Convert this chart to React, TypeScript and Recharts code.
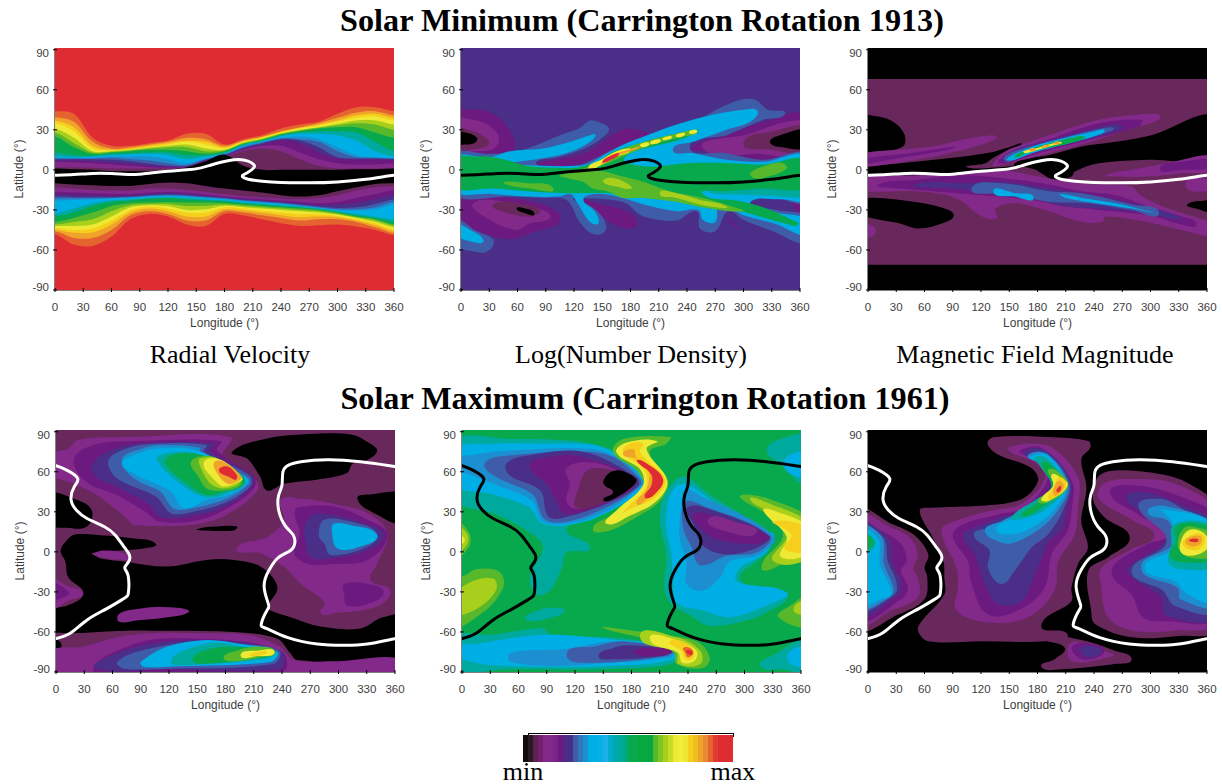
import { Bar, BarChart, Cell, ComposedChart, Curve, Line, XAxis, YAxis } from "recharts";

// contour levels, low to high
const levelColors = [
  "#000000", "#68285c", "#82298a", "#6c1a80", "#4b2e87", "#3f5ca8", "#1c8fd0", "#00aee6", "#00aecb",
  "#00a99d", "#08a84c", "#57b82b", "#a8cf1b", "#eee935", "#f6cf1c", "#efa32a", "#e5632f", "#df2c33",
];

const lonTicks = [0, 30, 60, 90, 120, 150, 180, 210, 240, 270, 300, 330, 360];
const latTicks = [-90, -60, -30, 0, 30, 60, 90];

// colour bar, left to right
const colorbarColors = [
  "#120c0c", "#2a1a20", "#5e1f52", "#73206f", "#82298a", "#82298a", "#7a2488", "#6c1a80", "#502a88", "#482e88",
  "#3f5ca8", "#2f78bc", "#1c8fd0", "#00aee6", "#00aee6", "#08aee6", "#1cb0e6", "#00aecb", "#00a9b0", "#00a99d",
  "#00a980", "#08a84c", "#08a84c", "#08a840", "#08a840", "#08a840", "#57b82b", "#80c520", "#a8cf1b", "#c8dc25",
  "#eee935", "#f2ee3a", "#f2e635", "#f6cf1c", "#f0bc22", "#efa32a", "#e98a30", "#e5632f", "#e03a32", "#df2c33",
  "#df2c33", "#df2c33",
];

// neutral line, solar minimum
const sheetMin = [
  -12, -4.3, 0, -4, 20, -3.5, 40, -2.7, 60, -2.8, 80, -3.5, 90, -3.2, 100, -2.5, 120, -1, 140, 0, 155, 1.5, 165, 3.5,
  175, 5.5, 185, 7, 195, 7.7, 205, 6.5, 211, 4, 211, 1.5, 205, -1.8, 199.5, -4, 199.5, -5.5, 205, -7, 220, -8.5, 240,
  -9.5, 270, -9.7, 300, -9, 330, -7, 360, -4, 372, -3.5,
];
// neutral lines, solar maximum
const sheetMaxWest = [
  -12, 67, 0, 64.5, 12, 61, 23, 55, 19.5, 49, 16, 39, 22, 31, 33, 25, 51, 19, 63, 12.5, 72, 4, 78, -2.5, 77, -7.5, 73,
  -12, 76.5, -17.5, 77, -30, 72, -35, 54, -42.5, 33, -51, 15, -61, 0, -65, -12, -67,
];
const sheetMaxEast = [
  372, -64, 360, -65, 330.5, -69, 306, -70, 277.5, -69, 245.5, -64, 224, -57.5, 218, -54, 224, -44, 225.5, -39, 221,
  -26, 226, -14, 235, -5, 244, -1, 252.5, 4, 252, 12.5, 244, 19, 236.5, 31, 236.5, 42.5, 240, 50, 241, 60, 247, 65,
  260, 67.5, 288, 69, 323.5, 67.5, 360, 64, 372, 63,
];

// radial velocity, solar minimum: edge latitudes of each level at every 20 degrees
const speedLons = [0, 20, 40, 60, 80, 100, 120, 140, 160, 180, 200, 220, 240, 260, 280, 300, 320, 340, 360];
const speedLevels = [16, 15, 14, 13, 12, 11, 10, 9, 7, 6, 5, 4, 3, 2, 1, 0];
const speedNorth = [
  [44, 42, 24, 18, 18, 20, 22, 27, 27, 19, 23, 26, 31, 34, 36, 42, 47, 47, 44],
  [39.5, 36, 21, 16, 17, 19, 21, 24, 23, 18, 22, 25, 29, 32, 35, 39, 43, 44, 41],
  [37, 32, 18, 15, 16, 18, 20, 22, 21, 17, 21.5, 24.5, 28.5, 31.5, 34, 37, 41, 42, 39],
  [35, 29, 16, 14.5, 15.5, 17, 19, 21, 19, 16, 21, 24, 28, 31, 33, 36, 39, 40, 37],
  [31, 24, 14, 14, 15, 16.5, 18, 19, 16, 15, 20.5, 23.5, 27.5, 30, 32, 34.5, 37, 37, 34],
  [28, 20, 13, 13.5, 14.5, 16, 17, 17, 14, 14.5, 20, 23, 27, 29.5, 31.5, 33.5, 35, 34, 30],
  [25, 17, 12, 13, 14, 15, 15, 14, 12, 14, 19.5, 22.5, 26.5, 29, 31, 32, 32, 28, 24],
  [13, 11, 10.5, 12, 12.5, 13, 13, 11, 11, 13, 19, 22, 26, 28, 29, 29, 28, 21, 14],
  [10, 9.5, 10, 11, 11.5, 12, 11, 8, 10, 12.5, 18.5, 21.5, 25, 27, 27, 26, 22, 14, 10],
  [9, 9, 9, 10, 10, 10, 8, 5, 8.5, 12, 18, 21, 24, 25, 23, 17, 11, 9.5, 9],
  [8.5, 8.5, 8.5, 9, 8, 7, 5, 3.5, 8, 11.5, 17, 20.5, 23.5, 23, 21, 14, 9.5, 9, 8.5],
  [8, 8, 8, 7.5, 6.5, 4.5, 3, 3, 7.5, 11, 16.5, 20, 23, 22, 17, 9.5, 8.5, 8.5, 8],
  [7, 7, 6.5, 5.5, 4.5, 3, 2.5, 2.5, 7, 10.5, 15.5, 19, 22, 20, 13, 8.5, 8, 8, 7.5],
  [6, 5.5, 5, 4, 3, 2, 1.5, 2, 6.5, 10, 15, 18, 18, 13, 8, 5, 4, 4, 5],
  [2, 2, 1.5, 1, 1, 1, 1, 1.5, 6, 9.5, 14, 16, 14, 8, 3, 1, 1, 1, 1],
  [1, 0.5, 0, -1, -1, -1, 0, 2, 6.5, 11.5, 3, 0, 0, 0, 0, 0, 0.5, 0.5, 1],
];
const speedSouth = [
  [-48, -56, -57, -50, -37, -33, -35, -41, -42, -33, -34, -37, -40, -42, -41.5, -41, -42.5, -45, -49],
  [-46, -51, -51, -45, -34, -31, -33, -38, -38, -31, -32, -34, -36, -38, -37, -37, -39, -43, -47.5],
  [-45, -47, -47, -41, -32, -29, -31, -35, -35, -29.5, -30.5, -32, -34, -35.5, -35, -35.5, -38, -41.5, -46],
  [-43.5, -45, -44, -38, -30, -27.5, -29, -32, -32, -28, -29, -30.5, -32, -33, -33, -34.5, -37, -40, -44.5],
  [-42, -42, -41, -35, -28, -26.5, -27, -30, -29.5, -27, -28, -29, -30, -31, -32, -33.5, -36, -39, -43],
  [-41, -39, -37, -31, -26.5, -25.5, -25.5, -27, -27, -26, -27, -28, -29, -30, -31, -33, -35.5, -38, -42],
  [-39, -36, -32, -27, -25, -24.5, -24, -24.5, -24.5, -25, -26, -27, -28, -29, -30, -32, -35, -37, -41],
  [-35, -32, -27, -24, -23, -21.5, -21, -22, -23, -23.5, -25, -26, -27, -28, -29.5, -31.5, -34, -36, -39],
  [-33, -29, -25, -23, -22, -21, -20.5, -21, -22, -23, -24.5, -25.5, -26.5, -27.5, -29, -31, -33, -35, -37],
  [-23, -22.5, -22, -21.5, -21, -20, -19.5, -20, -21, -22, -23.5, -24.5, -25.5, -27, -28.5, -30, -30.5, -29.5, -26],
  [-21.5, -21.5, -21.5, -21, -20.5, -19.5, -19, -19.5, -20.5, -21.5, -23, -24, -25, -26.5, -28, -29.5, -29.5, -28, -24],
  [-20, -20.5, -20.5, -20.5, -20, -19, -18.5, -19, -20, -21, -22.5, -23.5, -24.5, -26, -27.5, -28.5, -28, -25.5, -22],
  [-18.5, -19, -19, -19.5, -19, -18, -17.5, -18, -19.5, -20.5, -22, -23, -24, -25, -26.5, -26, -25, -22, -19],
  [-16.5, -17, -17.5, -18, -18, -17, -16.5, -17, -18.5, -20, -21, -22, -23, -24, -25, -24, -21, -18, -15],
  [-13, -14, -15, -15.5, -15.5, -14, -14, -15, -16.5, -18, -19.5, -20.5, -21.5, -22, -21, -19, -15.5, -13, -12],
  [-10, -11, -11.5, -12, -12, -10.5, -9.5, -10, -12, -14, -15.5, -17, -19, -20, -19, -16, -13, -10.5, -10],
];

// each contour: level, then lon, lat pairs
const densityMinContours = [
  [3, -12, 44, 10, 45, 28, 44, 42, 38, 55, 25, 55, 15, 30, 12, -12, 12],
  [2, -12, 38, 10, 38, 28, 34, 40, 25, 35, 16, 15, 14, -12, 14],
  [1, -12, 32, 8, 30, 22, 26, 30, 20, 18, 16, -12, 16],
  [0, -12, 28, 5, 28, 17, 24, 14, 20, 3, 19, -12, 19],
  [3, 243, 16, 282, 26, 317, 35, 372, 41, 372, 11, 300, 9, 264, 14],
  [2, 257, 16, 300, 26, 372, 36, 372, 12, 317, 12],
  [1, 300, 20, 332, 29, 372, 32, 372, 14, 328, 15],
  [0, 328, 21, 335, 25, 372, 30, 372, 17, 335, 17.5],
  [3, 80, 5, 130, 12, 172, 30, 194, 29, 200, 26, 172, 19, 144, 9, 123, 4, 87, 3],
  [3, -12, -19, 52, -21, 87, -26, 105, -34, 102, -41, 80, -46, 52, -52, 17, -46, -12, -34],
  [2, 13, -25, 48, -24, 87, -30, 95, -36, 73, -40, 59, -45, 27, -36],
  [1, 34, -26, 59, -25, 84, -30, 73, -35, 48, -32],
  [0, 59, -29, 66, -28.5, 78, -33, 66, -32],
  [3, 119, -22.5, 144, -25, 179, -32, 187, -41, 176, -44, 158, -39, 137, -29],
  [3, 282, -36, 296, -44, 290, -42],
  [3, 352, -26, 372, -18, 372, -33],
  [5, -12, 11, 30, 12, 60, 14, 85, 20, 105, 26, 125, 31, 137, 37, 145, 36, 157, 31, 150, 24, 137, 18, 120, 13, 100, 9, 80, 6, 87, 2, 123, 3, 144, 9, 172, 19, 200, 26, 243, 35, 286, 50, 310, 53, 326, 45, 344, 42, 321, 37.5, 282, 26, 243, 17.5, 282, 12.5, 321, 7.5, 372, 11, 372, -23.5, 335, -21.5, 305, -23, 335, -30, 372, -36, 372, -55, 328, -45, 300, -37.5, 284, -31, 270, -46, 254, -44, 250, -31, 229, -38, 194, -35, 172, -24, 123, -21, 119, -22, 135, -26, 151, -36, 153, -46, 140, -48, 126, -39, 112, -22.5, 87, -21, 52, -20, -12, -18],
  [5, -12, -36, 17, -46, 34, -52, 32, -59, 22, -62, -12, -54],
  [7, -12, 9, 30, 9.5, 52, 14, 87, 16, 116, 21, 137, 26, 143, 26, 135, 20, 112, 12.5, 80, 8, 52, 5, 59, 4, 87, 3, 123, 3, 137, 5, 155, 12.5, 176, 20, 194, 25, 229, 34, 265, 41, 300, 45, 315, 44, 307, 36, 282, 30, 247, 21, 225, 15, 247, 12.5, 282, 7.5, 321, 6, 372, 10, 372, -22, 340, -22, 306, -26, 335, -32, 372, -38, 372, -50, 332, -40, 300, -34, 275, -26, 270, -39, 257, -37.5, 252, -30, 229, -31, 194, -26, 172, -21, 144, -18, 130, -22, 142, -31, 146, -40, 137, -39, 123, -24, 116, -18, 105, -20, 70, -20, 34, -18, -12, -15],
  [7, -12, -39, 15, -47, 24, -53, 18, -55, -12, -47],
  [9, 372, -12, 318, -13, 262, -16, 272, -18, 318, -19, 372, -20],
  [10, -12, 8, 20, 10, 30, 10, 50, 7, 70, 3, 100, 1.5, 125, 2, 140, 5, 150, 8, 160, 13, 175, 17, 190, 20, 210, 24, 230, 27, 250, 30, 252, 29, 230, 22, 194, 16, 176, 11, 174, 6, 201, 2.5, 240, 5, 286, 5, 321, 4, 372, 7.5, 372, -12.5, 318, -14, 282, -16, 257, -18, 293, -23, 321, -28, 350, -37, 358, -41, 346, -40.5, 293, -30, 264, -25, 222, -22.5, 194, -19, 158, -17.5, 116, -17.5, 70, -16, 34, -14, -12, -12.5],
  [11, 307, -2.5, 321, 2.5, 339, 5.5, 346, 1, 321, -6, 311, -6],
  [11, 105, -4, 133, -1, 151, -1, 172, -5, 194, -9, 222, -16, 257, -21, 286, -27, 300, -31, 264, -29, 229, -24, 194, -21, 172, -21, 155, -16, 140, -14, 130, -9, 112, -6],
  [11, 45, -9, 70, -10, 98, -14, 73, -14, 48, -11],
  [12, 151, -7.5, 162, -6, 176, -10, 181, -14, 165, -12.5, 155, -11],
  [12, 211, -17.5, 229, -17.5, 254, -22.5, 282, -27.5, 264, -27.5, 229, -21],
  [11, 130, 0, 140, 4, 160, 12, 175, 16.5, 195, 21, 215, 25, 230, 27.5, 250, 30, 250, 27, 230, 24, 200, 18, 175, 11, 155, 5],
  [13, 135, 1, 150, 8, 165, 14, 180, 16, 178, 13, 165, 10, 150, 4],
  [15, 148, 3.5, 150, 5, 160, 11, 175, 14.5, 190, 17.5, 188, 16, 170, 11.5, 158, 7],
  [17, 150, 6, 160, 11, 168, 12, 158, 7],
  [13, 190, 18, 195, 20.5, 200, 20, 197, 17.5],
  [13, 201, 20, 206, 22.5, 212, 22, 207, 19.5],
  [13, 214, 23, 219, 25, 224, 24.5, 219, 22.5],
  [13, 228, 25.5, 233, 27.5, 238, 27, 233, 24.5],
  [13, 242, 28, 247, 30, 251, 29, 246, 27],
];

const fieldMinContours = [
  [0, -60, 68, -30, 68, 0, 68, 180, 68, 360, 68, 390, 68, 420, 68, 420, 130, -60, 130],
  [0, -60, -71, -30, -71, 0, -71, 180, -71, 360, -71, 390, -71, 420, -71, 420, -130, -60, -130],
  [0, -12, 39, 11, 40, 29, 35, 39, 26, 37, 17.5, 15, 14, -12, 12.5],
  [0, -12, 1, 30, 4.5, 90, 9, 130, 13, 150, 17, 163, 19, 148, 14.5, 133, 9, 125, 5, 105, 2, 140, 2, 156, 2.5, 125, -1, 68, -5, -12, -6],
  [0, 155, 4, 175, 9, 192, 11, 227, 17.5, 263, 21, 301, 26, 375, 41, 375, 10, 298, 7.5, 245, 5, 220, -1, 216, -5, 205, -7, 195, -7, 185, -3, 178, 0, 168, 2],
  [0, -12, -32, -12, -22, 50, -24, 86, -30, 91, -35, 79, -40, 54, -44, 33, -40],
  [0, 339, -26, 358, -23, 372, -23, 372, -32, 348, -29],
  [2, -12, 11, 33, 15, 68, 17.5, 100, 22.5, 132, 26, 137, 24, 121, 19, 86, 12.5, 50, 7.5, -12, 2.5],
  [3, -12, 7.5, 50, 13, 93, 17.5, 86, 15, 43, 10, -12, 4],
  [2, 132, 4, 146, 14, 164, 19, 192, 26, 245, 37.5, 280, 41, 309, 41.5, 309, 37.5, 280, 31, 227, 19, 192, 12.5, 156, 6, 135, 2.5],
  [3, 138, 6, 153, 14, 192, 23, 245, 35, 291, 37.5, 287, 32.5, 227, 21, 174, 11, 146, 5],
  [4, 144, 7.5, 156, 15, 192, 22, 241, 31, 263, 34, 271, 31, 227, 22, 174, 12.5, 149, 6],
  [5, 144, 9, 160, 15, 192, 21, 241, 30, 259, 32, 261, 30, 227, 22.5, 174, 14, 149, 6],
  [7, 147, 8, 164, 14.5, 192, 21, 241, 29, 251, 30, 248, 27, 220, 21, 174, 12.5, 153, 7],
  [10, 156, 11, 174, 16, 199, 21, 227, 25.5, 231, 24, 209, 19, 174, 14, 157, 9],
  [13, 165, 14, 178, 16, 192, 19, 204, 21, 206, 20, 192, 17.5, 178, 14.5, 167, 12.5],
  [15, 171, 15, 176, 16.5, 178, 14.5, 173, 14],
  [15, 184, 17.5, 190, 19, 192, 17.5, 186, 16.5],
  [15, 197, 20, 202, 21.5, 204, 20, 199, 19],
  [2, -12, -6, 50, -4, 103, -2.5, 139, 0, 174, -4, 213, -9, 245, -11, 280, -12.5, 289, -19, 319, -29, 372, -42, 372, -50, 333, -45, 296, -39, 252, -35, 249, -39, 227, -39, 192, -31, 156, -25, 135, -29, 137, -36, 121, -35, 93, -21, 50, -16, -12, -15],
  [3, 11, -11, 50, -7.5, 103, -4, 142, -6, 192, -11, 227, -16, 263, -19, 298, -27.5, 333, -35, 349, -41, 333, -41, 298, -34, 245, -30, 210, -27.5, 174, -22.5, 121, -19, 68, -16, 33, -14],
  [4, 50, -11, 103, -10, 142, -9, 192, -14, 227, -17.5, 280, -25, 315, -31, 332, -37, 298, -32.5, 245, -29, 210, -27.5, 174, -21, 121, -16, 86, -14],
  [5, 110, -14, 142, -10, 192, -16, 227, -17.5, 280, -26, 309, -32.5, 280, -30, 234, -25, 192, -24, 171, -21, 138, -18],
  [7, 133, -16, 156, -17.5, 176, -21, 156, -20],
  [7, 204, -18, 227, -21, 263, -25, 298, -31, 309, -33, 280, -29, 234, -24, 210, -21],
  [2, 252, -4, 280, 0, 316, 5, 372, 11, 372, 0, 333, -2.5, 298, -5, 263, -5],
  [3, 310, 1, 333, 6, 372, 8, 372, 2, 333, 0],
  [2, 337, -11, 372, -8, 372, -15],
  [2, -12, -39, 6, -42.5, 8.5, -46, 4, -50, -12, -50],
];

const speedMaxContours = [
  [0, 187, 75, 224, 85, 260, 88, 313, 88, 334, 81, 341, 75.5, 331, 69, 315, 66, 309, 59, 277, 54, 242, 51, 224, 46, 217, 56, 203, 70],
  [0, 320, 40, 334, 43, 372, 42.5, 372, 22, 338, 29],
  [0, -12, 43, 22, 39, 38, 31, 33, 19, 12, 18, -12, 22],
  [0, 150, 17, 171, 19, 192, 19, 189, 16, 160, 16],
  [0, 5, 1, 12, 9, 20, 13, 47, 12.5, 83, 10, 106, 6, 93, 2.5, 68, 1, 38, -1, 42, -3, 47, -5, 75, -7.5, 118, -11, 160, -6, 189, -6, 217, -11, 235, -26, 226, -39, 224, -42.5, 249, -49, 281, -56, 323, -57.5, 347, -49, 375, -49, 375, -82, 256, -81, 249, -76, 235, -65, 189, -60, 83, -59, -15, -59, -15, -45, 13, -40, 29, -31, 13, -19, 10, -7.5],
  [0, -12, -65, 6, -70, -12, -75],
  [2, 65, -50, 90, -42.5, 132, -42, 141, -45, 118, -49, 90, -51],
  [2, 24, 84, 83, 86, 185, 86, 176, 71, 189, 64, 212, 54, 214, 46, 189, 31, 153, 21, 83, 20, 75, 25, 47, 41, 19, 51, -12, 60, -12, 72, 12, 77],
  [3, 19, 69, 40, 80, 83, 83, 175, 83, 171, 76, 210, 56, 210, 47.5, 185, 34, 153, 24, 111, 22.5, 93, 31, 65, 42.5, 33, 52],
  [4, 38, 65, 58, 76, 90, 81, 168, 81, 164, 75, 207, 57.5, 208, 49, 182, 35, 150, 27.5, 111, 26, 100, 35, 68, 47.5, 43, 56],
  [5, 56, 69, 75, 77.5, 104, 81, 160, 80, 157, 75, 205, 57.5, 207, 50, 182, 37.5, 146, 30, 122, 29, 107, 41, 75, 51, 61, 57.5],
  [6, 70, 69, 90, 77, 111, 80, 153, 78, 153, 74, 203, 56, 205, 51, 182, 40, 143, 32.5, 125, 32.5, 111, 45, 83, 55],
  [7, 70, 66, 83, 72.5, 107, 77.5, 150, 76, 203, 55, 203, 51, 182, 42.5, 160, 39, 136, 32.5, 122, 45, 86, 57.5],
  [9, 107, 69, 118, 74, 146, 74, 189, 61, 201, 52.5, 182, 44, 160, 41, 136, 49],
  [10, 116, 66, 122, 72.5, 153, 73, 192, 60, 200, 51, 178, 45, 160, 42.5, 139, 51],
  [11, 143, 66, 150, 71, 168, 71, 196, 57.5, 196, 50, 178, 46, 160, 47.5, 150, 57.5],
  [12, 152, 66, 153, 70, 171, 70, 197, 56, 194, 51, 178, 47.5, 164, 51],
  [13, 157, 67, 175, 69, 198, 55, 194, 52.5, 178, 49, 168, 54],
  [15, 168, 67, 178, 67.5, 197, 56, 192, 52.5, 182, 51, 171, 59],
  [17, 173, 61, 182, 64, 192, 57.5, 191, 54, 184, 56],
  [2, 192, 2.5, 224, 11, 242, 24, 238.5, 39, 260, 40, 295, 36, 331, 29, 352, 14, 341, -9, 334, -21, 355, -29, 341, -41, 295, -46, 281, -46, 285, -37.5, 260, -24, 242, -11, 217, -1],
  [3, 306, -24, 331, -24, 348, -30, 331, -39, 309, -40, 306, -31],
  [3, 254, 26, 256, 33, 295, 34, 331, 24, 352, 12.5, 331, -6, 295, -9, 267, -9, 253, -1, 259, 14],
  [4, 263, 16, 272, 27.5, 295, 27.5, 328, 21, 348, 12.5, 327, 0, 292, -5, 270, -4, 265, 7.5],
  [5, 279, 12.5, 285, 24, 313, 22.5, 341, 14, 331, 4, 292, -2.5, 285, 6],
  [7, 293, 15, 295, 21, 313, 20, 341, 12.5, 323, 4, 299, 2.5],
  [2, -12, -20, 13.5, -26, 29, -31, 15, -36, -12, -43],
  [3, -12, -23, 13.5, -30, 4.5, -35, -12, -37],
  [2, 40, -1, 58, 1, 77, -2.5, 77, -6, 47, -4],
  [2, -12, -76, 29, -71, 65, -64, 100, -61, 153, -61, 207, -62.5, 238, -71, 253, -81, 295, -82, 372, -81, 372, -100, -12, -100],
  [3, 42, -84, 65, -74, 100, -66, 153, -65, 203, -67.5, 238, -74, 245, -80, 242, -89, 118, -95, 42, -92],
  [4, 42, -87, 65, -76, 100, -69, 153, -66, 199.5, -68, 238, -74, 242, -78, 238, -87.5, 118, -88],
  [5, 65, -82.5, 90, -74, 153, -66.5, 196, -69, 237, -74, 231, -84, 118, -87.5, 72, -87.5],
  [7, 90, -82.5, 118, -71, 160, -66, 196, -69, 235, -75, 228, -82.5, 118, -86, 93, -86],
  [9, 122, -82.5, 132, -75, 168, -68, 199.5, -71, 232, -75, 224, -80, 132, -85],
  [10, 145, -80, 157, -74, 185, -71, 232, -75, 221, -79, 153, -84],
  [11, 178, -79, 192, -74, 214, -71, 233, -75, 217, -79, 189, -82],
  [13, 196, -77.5, 214, -74, 232, -75, 214, -78],
  [14, 205, -77, 221, -74, 224, -76, 210, -78],
];

const densityMaxContours = [
  [9, -12, 82, 51, 84.5, 121, 83, 157, 77, 178, 68, 143, 26, 111, 17, 136, 3, 111, -0.5, 106, -12, 93, -29, 79, -32, 72, -19, 86, 3, 75, 13, 36.5, 28, -12, 41],
  [7, -12, 76, 33, 81, 86, 81, 143, 79.5, 171, 69.5, 192, 56, 192, 48, 164, 33, 121, 21, 86, 21, 72, 33, 33, 43, -12, 51],
  [6, -12, 67, 15, 73, 51, 76, 139, 77, 171, 68, 191, 54.5, 191, 49.5, 157, 32, 118, 22, 86, 23, 75, 38, 33, 51, 12, 57],
  [5, 24, 66, 47, 72, 129, 75, 160.5, 71, 189, 54.5, 189, 49.5, 157, 34.5, 114, 23, 88, 24.5, 75, 43, 36.5, 56],
  [4, 47, 66, 68, 72, 129, 75, 185, 56, 187, 49.5, 157, 37, 104, 25, 91, 27, 83, 46, 51, 57],
  [3, 72, 64.5, 93, 71, 121.5, 72, 175, 59.5, 185, 52, 157, 38, 111, 28, 100, 38, 90, 51],
  [2, 111, 63, 139, 67, 178, 57, 185, 52, 157, 39, 121.5, 32, 111, 38, 114.5, 51],
  [1, 123, 46, 136, 62, 178, 57, 182, 51, 153, 38, 121.5, 33],
  [0, 150, 53, 157, 59.5, 168, 61, 185, 54.5, 182, 49.5, 160.5, 39.5, 150, 39, 160.5, 44.5, 152, 49.5],
  [11, 160.5, 74.5, 171, 84.5, 221, 86, 217, 81, 199.5, 74.5, 219, 53, 210, 38, 185, 26, 157, 16, 139, 17, 157, 27, 192, 48, 185.5, 61],
  [13, 164, 74.5, 175, 82, 207, 83, 196, 77, 218, 53, 206.5, 38, 178, 27, 153.5, 21, 164, 31, 192, 49.5, 189, 62],
  [14, 171, 74.5, 178, 81, 192, 81, 189, 74.5, 215.5, 54.5, 205, 41, 178, 32, 171, 29.5, 196, 49.5, 192, 63],
  [15, 171, 73, 182, 77, 185, 71, 213.5, 54.5, 199.5, 42, 185.5, 36, 196, 47, 198, 61, 185, 70],
  [17, 185.5, 68, 192, 68, 213.5, 54.5, 203, 42, 194, 41, 201, 49.5, 201, 58],
  [11, -12, 24, 7, 15, 7, 3, -12, -5],
  [12, -12, 21, 5, 14, 5, 5, -12, -2],
  [13, -12, 16, 2, 11, 2, 7, -12, 2],
  [11, -12, -24, 5, -17, 15, -13, 40, -15, 43.5, -27, 22, -45.5, -12, -55],
  [12, -12, -36, 8, -23, 33, -20, 36, -29, 15, -43, -12, -47],
  [9, 323.5, 76, 338, 84.5, 372, 86, 372, 50, 338, 66],
  [7, 341, 66, 372, 74, 372, 56],
  [11, 295, 41, 302, 43, 327, 39.5, 372, 23, 372, -4, 341, -9, 320, -14, 320, -7, 341, 13, 323.5, 28],
  [12, 306, 39.5, 320, 38, 372, 19.5, 372, -2, 331, -7, 345, 13, 325, 30],
  [13, 320, 31, 331, 31, 372, 17, 372, 1, 339, -4, 345, 11],
  [14, 331, 23, 372, 16, 372, 2, 343, 2, 350, 13],
  [9, 228, 54.5, 238.5, 56, 263, 43, 316, 18, 327, 3, 313, -7, 295, -19, 310, -27, 345, -32, 327, -44, 299, -52, 263, -55.5, 245.5, -49, 217, -34, 217, -2, 210, 23, 214, 41],
  [7, 228, 49.5, 242, 49.5, 285, 28, 320, 16, 332, 12, 320, -2, 295, -12, 292, -22, 345, -30.5, 327, -39, 285, -49, 256, -44, 228, -38, 224, -22, 222.5, -2, 217, 18, 219, 38],
  [6, 237, 46, 253, 42, 331, 12, 316, -2, 285, -7, 274, -19, 256, -29, 238.5, -24, 238.5, -7, 231, 11, 233, 33],
  [5, 237, 37, 256, 34.5, 327, 12, 313, -0.5, 281, -3, 253, -10, 244, 3, 235, 18],
  [4, 239, 33, 263, 32, 326, 12, 313, 3, 281, -2, 256, 4.5, 245.5, 21],
  [3, 245.5, 28, 263, 28, 325, 12, 313, 6, 270, 9.5, 253, 18],
  [2, 261.5, 24.5, 292, 22, 313, 14.5, 285, 14.5],
  [9, 68, -50.5, 84, -43, 100, -42, 109, -44, 97, -49],
  [9, -12, -64, 33, -62, 86, -57, 93, -62, 157, -64, 192, -67, 228, -72, 228, -82, 189, -87, 51, -88, -12, -87],
  [7, -12, -72, 15, -69, 86, -62, 157, -65.5, 225, -72, 225, -80.5, 157, -85.5, 51, -85.5, 8, -82],
  [6, 51, -75.5, 107, -73, 164, -67, 225, -73, 221, -79, 157, -83, 93, -85.5, 51, -82],
  [5, 111, -77, 143, -70.5, 171, -67, 223, -74, 217, -78, 143, -83],
  [4, 145, -78, 160.5, -72, 178, -70, 223, -74, 213, -78, 160, -80.5],
  [3, 182, -75.5, 192, -72, 223, -74, 206.5, -78],
  [11, 150, -57, 171, -58, 210, -62, 249, -67, 263, -79, 256, -87, 228, -84, 225, -75.5, 196, -65.5],
  [12, 189, -63, 228, -64, 253, -74, 253, -84, 230, -84, 228, -75.5],
  [13, 199.5, -65, 228, -66, 249, -74, 247, -81.5, 234, -83, 229.5, -75.5],
  [14, 221, -67, 238.5, -69, 247, -75.5, 244, -80.5, 237, -80.5, 233, -74],
  [16, 235, -72, 242, -72, 245.5, -75.5, 240, -79, 237, -75.5],
  [17, 238, -74, 244, -74, 244, -77, 239, -76],
  [9, 316.5, -85.5, 331, -77, 372, -66, 372, -90, 341, -88],
  [7, 345, -79, 372, -71, 372, -86],
  [11, 336, -49, 348, -40.5, 372, -33, 372, -55],
  [12, 352, -43, 372, -36, 372, -46],
];

const fieldMaxContours = [
  [1, -12, 31, 25, 21, 50, 12, 64, -2, 60, -12, 63, -19, 60, -35.5, 32, -47, -12, -57],
  [2, -12, 27, 25, 18, 44, 11, 53, -2, 48, -12, 53, -19, 53, -34, 25, -44, -12, -54],
  [3, -12, 23, 14, 16, 35, 6, 41, -7, 35, -14, 42.5, -27, 35, -35.5, -12, -50],
  [4, -12, 20, 21, 11, 26.5, -9, 35, -22, 32, -32, -12, -46],
  [5, -12, 19, 16, 11, 21, -7, 30, -22, 28, -32, -12, -42],
  [6, -12, 19, 14, 12, 17, -9, 27, -27, 23, -34, -12, -41],
  [7, -12, 18, 11, 9.5, 12.5, -9, 25.5, -30.5, 19.5, -34, -12, -38],
  [9, -12, 15, 7, 9.5, 5, 2, -12, -1],
  [10, -12, 14, 6, 7, -12, 1],
  [1, 55, 31, 67, 33, 120, 34.5, 163, 39.5, 180.5, 53, 173, 63, 138, 73, 127, 81, 134, 86, 191, 86, 234, 83, 236, 78, 226.5, 69.5, 232, 48, 226.5, 23, 233.5, 3, 223, -9, 216, -27, 216, -37, 184, -55.5, 212, -62, 190, -67, 120, -67, 64, -67, 53, -59, 57, -52, 81, -32, 81, -19, 80, -7, 67, 13],
  [1, 189, -65, 223, -65.5, 262, -74, 280, -80.5, 262, -84, 205, -88, 184, -86, 198, -80.5, 209, -72],
  [2, 214, -69, 226.5, -68, 261, -77, 255, -79, 226.5, -83, 214, -80.5],
  [3, 217, -70.5, 237, -69, 251, -74, 237, -80.5, 223, -79],
  [4, 225, -72, 237, -70.5, 248, -74, 237, -79, 228, -77],
  [2, 78, 16, 92, 23, 131, 31, 163, 36, 187.5, 54.5, 179, 66, 152, 74.5, 149, 78, 172, 81, 196, 78, 223, 56, 223, 33, 219.5, 13, 202, -7, 198, -29, 170, -49, 127.5, -53, 94, -44, 95.5, -27, 94, -12],
  [3, 90, 12, 102, 21, 138, 28, 166, 33, 191, 54.5, 182.5, 68, 161, 74.5, 164, 77, 184, 78, 216.5, 53, 216.5, 33, 212, 16, 195, -2, 187.5, -27, 159, -44, 127.5, -47, 110, -24, 106, -7],
  [4, 101, 12, 113, 18, 141.5, 26, 170, 32, 195, 53, 182, 69.5, 166, 74, 189, 76, 216, 52, 210.5, 31, 207, 18, 191, 6, 179, -14, 163, -37, 138, -39, 124, -24, 113, -2],
  [5, 112.5, 13, 131, 18, 156, 26, 180.5, 36, 198, 51, 184, 69.5, 170, 73, 191, 73, 214, 51, 207, 31, 191, 13, 173.5, 3, 156, -14, 141.5, -24, 127.5, -12, 129, 1],
  [6, 124, 16, 141.5, 23, 170, 33, 195, 48, 182, 66, 170, 72, 191, 73, 212.5, 49.5, 203.5, 33, 184, 18, 156, 7, 141.5, 7],
  [7, 136, 17, 152, 24.5, 179, 37, 198, 51, 180.5, 67, 172, 71, 191, 72, 210.5, 49.5, 198, 32, 173.5, 18, 152, 13],
  [9, 152, 26, 179, 39.5, 195, 48, 181, 66, 177, 71, 191, 69.5, 209, 49.5, 191, 33, 163, 24.5],
  [10, 163, 28, 181.5, 38, 195, 49.5, 184, 66, 191, 67, 208.5, 49.5, 191, 37, 170, 27],
  [11, 180.5, 38, 198, 49.5, 191, 61, 200, 61, 212.5, 49.5, 191, 37],
  [13, 184, 39.5, 196.5, 49.5, 195, 58, 202, 57, 212, 49.5, 191, 38],
  [14, 191, 41, 198, 49.5, 203.5, 56, 210.5, 49.5, 195, 39.5],
  [15, 196.5, 44.5, 202, 53, 208, 49.5, 200, 42],
  [17, 200, 46, 204.5, 49.5, 205, 47, 202, 44.5],
  [1, 239, 39.5, 244, 56, 262, 61, 313, 58, 341, 51, 372, 32, 372, -57, 330, -63, 280, -64, 241, -54, 237, -44, 234, -14, 255, -4, 278, 11, 251, 26],
  [2, 245.5, 39.5, 250, 51, 280, 54.5, 326, 51, 372, 28, 372, -52, 326, -59, 280, -59, 255, -49, 248, -27, 248, -12, 280, 2, 304, 12, 283, 23],
  [3, 257, 44.5, 280, 50, 326, 43, 372, 23, 372, -48, 317, -52, 292, -49, 280, -32, 260, -19, 262, -9, 297, 6, 317, 13, 287, 28],
  [4, 274, 41, 295, 44.5, 327, 37, 372, 18, 372, -47, 317, -48, 311, -34, 280, -19, 276, -12, 317, 11, 295, 28],
  [5, 287, 34.5, 313, 39.5, 337, 31, 372, 17, 372, -43, 326, -40.5, 313, -29, 280, -14, 317, 8],
  [6, 297, 29.5, 315, 34.5, 372, 16, 372, -39, 332, -35.5, 329, -27, 290, -12, 324, 6, 319, 23],
  [7, 312, 32, 372, 17, 372, -37, 340, -32, 326, -22, 294, -12, 324, 3, 322, 23],
  [9, 326, 21, 372, 17, 372, -9, 332, -13, 319, -8, 322, 3],
  [10, 326, 18, 343, 22, 372, 14.5, 372, -4, 336, -8, 320, -3, 327, 8],
  [11, 329, 4.5, 336, 18, 350, 18, 372, 12, 372, -2, 340, -4],
  [13, 331, 4.5, 340, 16, 356, 14.5, 362, 4.5, 350, -2, 335, -2],
  [14, 334, 6, 345, 13, 356, 13, 357, 6, 348, 1],
  [15, 337, 8, 347, 12, 354, 11, 353, 6, 344, 4],
  [17, 341, 9, 349, 10, 351, 8, 343, 7.5],
];

// velocity bands built from the edge table
const speedMinContours = speedLevels.map((level, i) => {
  const north = speedNorth[i].flatMap((lat, j) => [speedLons[j], lat]);
  const south = speedSouth[i].flatMap((lat, j) => [speedLons[j], lat]);
  const back = [];
  for (let j = south.length - 2; j >= 0; j -= 2) back.push(south[j], south[j + 1]);
  return [level, -20, speedNorth[i][0], ...north, 380, speedNorth[i][18], 380, speedSouth[i][18], ...back, -20, speedSouth[i][0]];
});

const sans = "'Liberation Sans', Arial, sans-serif";
const serif = "'Liberation Serif', 'Times New Roman', serif";
const inkColor = "#3d3d3d";
const plotW = 339;
const plotH = 242;
const marginL = 45;
const marginT = 4;

const toRows = (flat: number[]) => {
  const rows = [];
  for (let i = 0; i < flat.length; i += 2) rows.push({ lon: flat[i], lat: flat[i + 1] });
  return rows;
};

// closed smooth outline going through every scaled point
const closedPath = (pts: { x: number; y: number }[]) => {
  const n = pts.length;
  const tangent = (a: { x: number; y: number }, b: { x: number; y: number }) => {
    const dx = b.x - a.x;
    const dy = b.y - a.y;
    const len = Math.hypot(dx, dy) || 1;
    return { x: dx / len, y: dy / len };
  };
  let d = `M${pts[0].x},${pts[0].y}`;
  for (let i = 0; i < n; i++) {
    const p0 = pts[(i - 1 + n) % n];
    const p1 = pts[i];
    const p2 = pts[(i + 1) % n];
    const p3 = pts[(i + 2) % n];
    const t1 = tangent(p0, p2);
    const t2 = tangent(p1, p3);
    const s = Math.hypot(p2.x - p1.x, p2.y - p1.y) * 0.33;
    d += `C${p1.x + t1.x * s},${p1.y + t1.y * s} ${p2.x - t2.x * s},${p2.y - t2.y * s} ${p2.x},${p2.y}`;
  }
  return d + "Z";
};

// Line only carries the scaled points, the filled region is painted from them once
const regionDot = (color: string) => (props: any) => {
  if (props.index !== 0) return <g key={props.index} />;
  return (
    <g key="region" clipPath="url(#plot-clip)">
      <path d={closedPath(props.points)} fill={color} stroke="none" />
    </g>
  );
};

const sheetDot = (color: string) => (props: any) => {
  if (props.index !== 0) return <g key={props.index} />;
  return (
    <g key="sheet" clipPath="url(#plot-clip)">
      <Curve type="natural" points={props.points} fill="none" stroke={color} strokeWidth={3} strokeLinejoin="round" />
    </g>
  );
};

const LonTick = ({ x, y, payload }: any) => (
  <g>
    <line x1={x} x2={x} y1={y} y2={y - 4} stroke="#000" />
    <text x={x} y={y + 19} textAnchor="middle" fontSize={11.5} fontFamily={sans} fill={inkColor}>
      {payload.value}
    </text>
  </g>
);

const LatTick = ({ x, y, payload }: any) => {
  const nudge = payload.value === 90 ? 3 : payload.value === -90 ? -3 : 0;
  return (
    <g>
      <line x1={x} x2={x + 4} y1={y} y2={y} stroke="#000" />
      <text x={x - 4} y={y + 4 + nudge} textAnchor="end" fontSize={11.5} fontFamily={sans} fill={inkColor}>
        {payload.value}
      </text>
    </g>
  );
};

type MapProps = {
  left: number;
  top: number;
  background: number;
  contours: number[][];
  sheets: number[][];
  sheetColor: string;
};

function ContourMap({ left, top, background, contours, sheets, sheetColor }: MapProps) {
  return (
    <div style={{ position: "absolute", left: left - marginL, top: top - marginT }}>
      <ComposedChart width={marginL + plotW + 18} height={marginT + plotH + 44} margin={{ top: marginT, right: 18, bottom: 0, left: 0 }}>
        <XAxis
          dataKey="lon"
          type="number"
          domain={[0, 360]}
          ticks={lonTicks}
          interval={0}
          allowDataOverflow
          height={44}
          tickSize={0}
          tickLine={false}
          tick={<LonTick />}
          axisLine={{ stroke: "#000" }}
          label={{ value: "Longitude (°)", position: "insideBottom", offset: 7, fontSize: 12, fontFamily: sans, fill: inkColor }}
        />
        <XAxis xAxisId="top" orientation="top" type="number" dataKey="lon" domain={[0, 360]} ticks={lonTicks} interval={0} allowDataOverflow height={0} mirror tickSize={4} tick={false} stroke="#000" />
        <YAxis
          dataKey="lat"
          type="number"
          domain={[-90, 91.3]}
          ticks={latTicks}
          interval={0}
          allowDataOverflow
          width={marginL}
          tickSize={0}
          tickLine={false}
          tick={<LatTick />}
          axisLine={{ stroke: "#000" }}
          label={{ value: "Latitude (°)", angle: -90, position: "insideLeft", offset: 9, fontSize: 12, fontFamily: sans, fill: inkColor, style: { textAnchor: "middle" } }}
        />
        <YAxis yAxisId="right" orientation="right" type="number" dataKey="lat" domain={[-90, 91.3]} ticks={latTicks} interval={0} allowDataOverflow width={0} mirror tickSize={4} tick={false} stroke="#000" />
        <Line
          data={toRows([-40, -130, -40, 130, 400, 130, 400, -130, -40, -130])}
          dataKey="lat"
          stroke="none"
          isAnimationActive={false}
          dot={(props: any) =>
            props.index === 0 ? (
              <g key="bg" clipPath="url(#plot-clip)">
                <Curve type="linearClosed" points={props.points} fill={levelColors[background]} stroke="none" />
              </g>
            ) : (
              <g key={props.index} />
            )
          }
        />
        {contours.map((c, i) => (
          <Line key={i} data={toRows(c.slice(1))} dataKey="lat" stroke="none" isAnimationActive={false} dot={regionDot(levelColors[c[0]])} activeDot={false} />
        ))}
        {sheets.map((s, i) => (
          <Line key={`sheet-${i}`} data={toRows(s)} dataKey="lat" stroke="none" isAnimationActive={false} dot={sheetDot(sheetColor)} activeDot={false} />
        ))}
      </ComposedChart>
    </div>
  );
}

function Caption({ text, x, y, size, bold }: { text: string; x: number; y: number; size: number; bold?: boolean }) {
  return (
    <div style={{ position: "absolute", left: x - 320, top: y - size * 0.6, width: 640, textAlign: "center", fontFamily: serif, fontSize: size, lineHeight: `${size * 1.2}px`, fontWeight: bold ? "bold" : "normal", color: "#000", whiteSpace: "nowrap" }}>
      {text}
    </div>
  );
}

export default function App() {
  const bins = colorbarColors.map((color, i) => ({ i, color, v: 1 }));
  return (
    <div style={{ position: "absolute", left: 0, top: 0, width: 1222, height: 784, overflow: "hidden", background: "#fff" }}>
      <svg width={0} height={0} style={{ position: "absolute" }}>
        <defs>
          <clipPath id="plot-clip" clipPathUnits="userSpaceOnUse">
            <rect x={marginL} y={marginT} width={plotW} height={plotH} />
          </clipPath>
        </defs>
      </svg>

      <Caption text="Solar Minimum (Carrington Rotation 1913)" x={642} y={20} size={32.2} bold />
      <Caption text="Radial Velocity" x={230} y={355} size={26} />
      <Caption text="Log(Number Density)" x={631} y={355} size={26} />
      <Caption text="Magnetic Field Magnitude" x={1035} y={355} size={26} />
      <Caption text="Solar Maximum (Carrington Rotation 1961)" x={645} y={398} size={32.2} bold />

      <ContourMap left={55} top={48} background={17} contours={speedMinContours} sheets={[sheetMin]} sheetColor="#fff" />
      <ContourMap left={461} top={48} background={4} contours={densityMinContours} sheets={[sheetMin]} sheetColor="#000" />
      <ContourMap left={868} top={48} background={1} contours={fieldMinContours} sheets={[sheetMin]} sheetColor="#fff" />
      <ContourMap left={56} top={430} background={1} contours={speedMaxContours} sheets={[sheetMaxWest, sheetMaxEast]} sheetColor="#fff" />
      <ContourMap left={462} top={430} background={10} contours={densityMaxContours} sheets={[sheetMaxWest, sheetMaxEast]} sheetColor="#000" />
      <ContourMap left={868} top={430} background={0} contours={fieldMaxContours} sheets={[sheetMaxWest, sheetMaxEast]} sheetColor="#fff" />

      <div style={{ position: "absolute", left: 528, top: 733, width: 204, height: 3, borderTop: "1px solid #000", borderLeft: "1px solid #000", borderRight: "1px solid #000" }} />
      <div style={{ position: "absolute", left: 523, top: 735 }}>
        <BarChart width={210} height={27} data={bins} margin={{ top: 0, right: 0, bottom: 0, left: 0 }} barCategoryGap={0}>
          <XAxis dataKey="i" hide />
          <YAxis hide domain={[0, 1]} />
          <Bar dataKey="v" isAnimationActive={false}>
            {bins.map((b) => (
              <Cell key={b.i} fill={b.color} />
            ))}
          </Bar>
        </BarChart>
      </div>
      <Caption text="min" x={523} y={772} size={26} />
      <Caption text="max" x={733} y={772} size={26} />
    </div>
  );
}
